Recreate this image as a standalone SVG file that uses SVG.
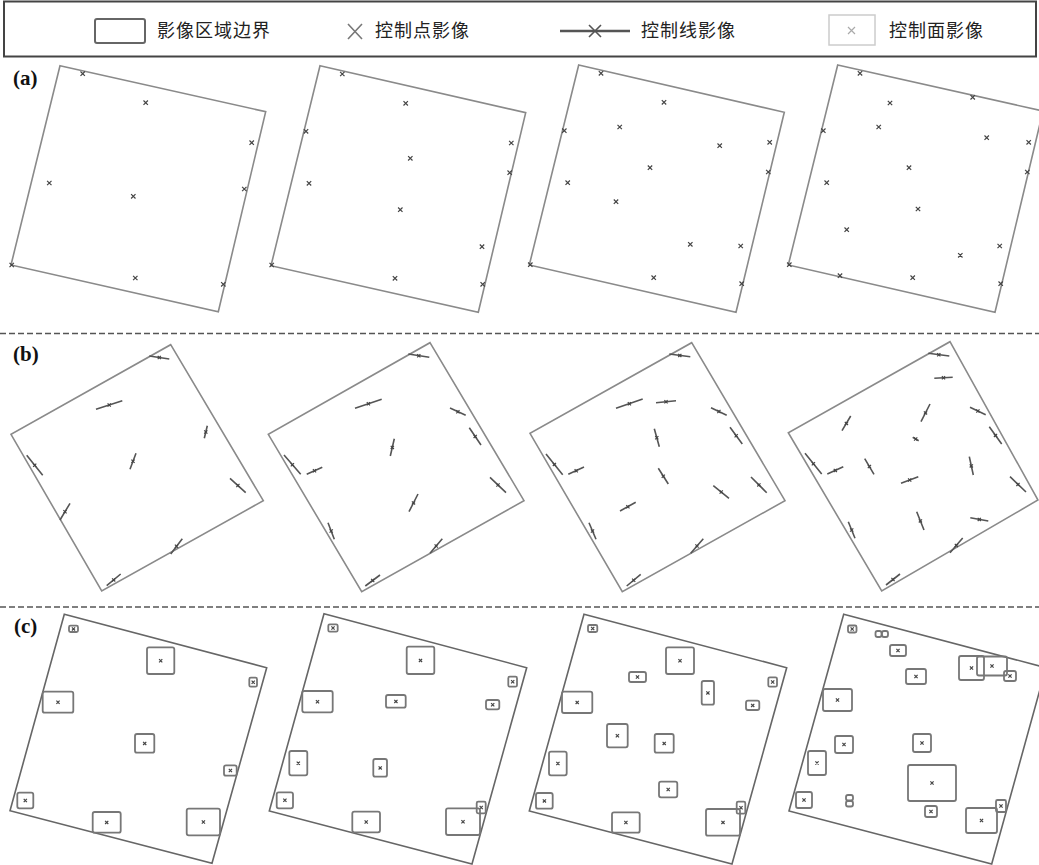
<svg xmlns="http://www.w3.org/2000/svg" xmlns:xlink="http://www.w3.org/1999/xlink" width="1039" height="865" viewBox="0 0 1039 865">
<style>
.bg{fill:#fff}
.frame{fill:none;stroke:#444;stroke-width:2}
.lt{font-family:"Noto Sans CJK SC","Noto Sans",sans-serif;font-size:18px;fill:#222;letter-spacing:1px}
.lab{font-family:"Liberation Serif",serif;font-weight:bold;font-size:21px;fill:#111}
.quad{fill:none;stroke:#8a8a8a;stroke-width:1.6}
.quadc{fill:none;stroke:#666;stroke-width:1.6}
.sep{stroke:#555;stroke-width:1.5;stroke-dasharray:6 3}
.pt{stroke:#444;stroke-width:1.2;fill:none}
.cl{stroke:#555;stroke-width:1.6;fill:none}
.cb{fill:none;stroke:#777;stroke-width:1.8}
</style>
<defs>
<g id="pt"><path class="pt" d="M-2.2,-2.2L2.2,2.2M-2.2,2.2L2.2,-2.2"/></g>
<g id="sp"><path class="pt" d="M-1.6,-1.6L1.6,1.6M-1.6,1.6L1.6,-1.6"/></g>
</defs>
<rect class="bg" x="0" y="0" width="1039" height="865"/>

<g id="legend">
<rect class="frame" x="4" y="1.5" width="1032" height="55"/>
<g id="leg-boundary"><rect x="95" y="19" width="50" height="24" rx="2" fill="#fff" stroke="#666" stroke-width="2"/><text class="lt" x="157" y="37">影像区域边界</text></g>
<g id="leg-point"><path d="M348,24L362,39M348,39L362,24" stroke="#777" stroke-width="1.6" fill="none"/><text class="lt" x="375" y="37">控制点影像</text></g>
<g id="leg-line"><line x1="560" y1="31" x2="630" y2="31" stroke="#555" stroke-width="2.5"/><path d="M589,25L601,37M589,37L601,25" stroke="#555" stroke-width="1.6" fill="none"/><text class="lt" x="641" y="37">控制线影像</text></g>
<g id="leg-face"><rect x="829" y="15" width="46" height="30" fill="#fff" stroke="#ccc" stroke-width="1.5"/><path d="M848,27L855,34M848,34L855,27" stroke="#aaa" stroke-width="1.2" fill="none"/><text class="lt" x="889" y="37">控制面影像</text></g>
</g>

<g id="separators">
<line class="sep" x1="0" y1="333.5" x2="1039" y2="333.5"/>
<line class="sep" x1="0" y1="607" x2="1039" y2="607"/>
</g>

<text class="lab" x="13" y="85">(a)</text>
<text class="lab" x="13" y="361">(b)</text>
<text class="lab" x="14" y="633">(c)</text>

<!-- Row a -->
<g id="a1">
<polygon class="quad" points="60,65.7 265.7,111.7 218.3,311.7 11,265"/>
<use href="#pt" x="82.7" y="73.7"/><use href="#pt" x="145.7" y="102.7"/><use href="#pt" x="251.7" y="142.7"/><use href="#pt" x="49.3" y="183"/><use href="#pt" x="133.3" y="196.3"/><use href="#pt" x="244.3" y="189"/><use href="#pt" x="11.7" y="265"/><use href="#pt" x="135.3" y="278"/><use href="#pt" x="223.3" y="284.3"/>
</g>
<g id="a2">
<polygon class="quad" points="320,65.7 525.7,112.7 478.3,312.3 271,265.7"/>
<use href="#pt" x="342.3" y="74"/><use href="#pt" x="405.7" y="103.3"/><use href="#pt" x="306" y="131.3"/><use href="#pt" x="511.3" y="143"/><use href="#pt" x="410.3" y="158.3"/><use href="#pt" x="509.7" y="172.7"/><use href="#pt" x="309" y="183.3"/><use href="#pt" x="400.3" y="209.7"/><use href="#pt" x="482" y="246.7"/><use href="#pt" x="271.7" y="265"/><use href="#pt" x="395" y="278.3"/><use href="#pt" x="482.7" y="284.3"/>
</g>
<g id="a3">
<polygon class="quad" points="578.7,65 784.3,112.3 736,312.3 529.3,265"/>
<use href="#pt" x="601" y="73.3"/><use href="#pt" x="664" y="102.3"/><use href="#pt" x="564.3" y="130.7"/><use href="#pt" x="619.7" y="127"/><use href="#pt" x="719.7" y="145.7"/><use href="#pt" x="769.7" y="142.3"/><use href="#pt" x="650" y="167.7"/><use href="#pt" x="768.3" y="172"/><use href="#pt" x="567.7" y="182.7"/><use href="#pt" x="616" y="201.7"/><use href="#pt" x="690.3" y="244.3"/><use href="#pt" x="740.7" y="246"/><use href="#pt" x="530.3" y="264.7"/><use href="#pt" x="653.7" y="277.7"/><use href="#pt" x="741.7" y="283.7"/>
</g>
<g id="a4">
<polygon class="quad" points="837.7,65 1043,111 995,312.3 788.3,265"/>
<use href="#pt" x="860" y="73.3"/><use href="#pt" x="972.7" y="97.3"/><use href="#pt" x="890" y="103"/><use href="#pt" x="878.7" y="127"/><use href="#pt" x="823.3" y="130.7"/><use href="#pt" x="986.7" y="137.7"/><use href="#pt" x="1028.7" y="142.3"/><use href="#pt" x="909" y="167.7"/><use href="#pt" x="1027.3" y="172"/><use href="#pt" x="826.7" y="182.7"/><use href="#pt" x="918" y="209"/><use href="#pt" x="846.7" y="229.7"/><use href="#pt" x="999.7" y="246"/><use href="#pt" x="960.3" y="255.3"/><use href="#pt" x="789.3" y="264.7"/><use href="#pt" x="840" y="275.7"/><use href="#pt" x="912.7" y="277.7"/><use href="#pt" x="1000.7" y="283.7"/>
</g>

<!-- Row b -->
<g id="b1">
<polygon class="quad" points="170.7,344.7 263.3,500.7 101.7,591 11,434.3"/>
<path class="cl" d="M149.3,356L169.3,359M96,409.3L122.3,400.7M204.3,438.3L207.3,425.7M26.7,455.3L42.7,475.3M130,469.3L136,453.3M230,478.3L245.7,492.7M60,520L70,503.3M170.7,554L182.3,538.7M106.7,585.7L120.7,574"/>
<use href="#sp" x="159.3" y="357.5"/><use href="#sp" x="109.2" y="405"/><use href="#sp" x="205.8" y="432"/><use href="#sp" x="34.7" y="465.3"/><use href="#sp" x="133" y="461.3"/><use href="#sp" x="237.9" y="485.5"/><use href="#sp" x="65" y="511.7"/><use href="#sp" x="176.5" y="546.3"/><use href="#sp" x="113.7" y="579.9"/>
</g>
<g id="b2">
<polygon class="quad" points="430,342.7 524,500.7 361.7,591.7 268.3,434.3"/>
<path class="cl" d="M408.3,354L429.3,357.3M355,408.3L381.7,399.3M450,408L465.7,415.3M469.3,427.7L481,445M390.3,456L394.3,438.7M284,455L300.7,474.3M306.7,474.3L322.3,467.3M490,477.3L506,492.7M409,511.7L418,494M328,522.7L334.3,539.3M430,553.3L442.3,538.7M365.3,586L380,575"/>
<use href="#sp" x="418.8" y="355.7"/><use href="#sp" x="368.4" y="403.8"/><use href="#sp" x="457.9" y="411.7"/><use href="#sp" x="475.2" y="436.4"/><use href="#sp" x="392.3" y="447.4"/><use href="#sp" x="292.4" y="464.7"/><use href="#sp" x="314.5" y="470.8"/><use href="#sp" x="498" y="485"/><use href="#sp" x="413.5" y="502.9"/><use href="#sp" x="331.2" y="531"/><use href="#sp" x="436.2" y="546"/><use href="#sp" x="372.7" y="580.5"/>
</g>
<g id="b3">
<polygon class="quad" points="691.7,342.7 785,500.7 622.3,591.7 530,433.3"/>
<path class="cl" d="M669.3,354L690.3,356.7M616,408.3L642.7,399M656,402.7L676,400.7M711,407.7L726.7,415.3M730,427.3L742.3,444M654.3,428.7L659.3,446.7M546,454L562.7,474.7M568.3,474.3L584,467M658.3,468.3L668.3,484M751,477L766.7,492.7M713.3,485.7L729,498.3M620,511L635.7,502.3M589,522.7L596,539.3M690.7,553.3L703.3,538.7M626.7,586L640.7,574.3"/>
<use href="#sp" x="679.8" y="355.4"/><use href="#sp" x="629.4" y="403.7"/><use href="#sp" x="666" y="401.7"/><use href="#sp" x="718.9" y="411.5"/><use href="#sp" x="736.2" y="435.7"/><use href="#sp" x="656.8" y="437.7"/><use href="#sp" x="554.4" y="464.4"/><use href="#sp" x="576.2" y="470.7"/><use href="#sp" x="663.3" y="476.2"/><use href="#sp" x="758.9" y="484.9"/><use href="#sp" x="721.2" y="492"/><use href="#sp" x="627.9" y="506.7"/><use href="#sp" x="592.5" y="531"/><use href="#sp" x="697" y="546"/><use href="#sp" x="633.7" y="580.2"/>
</g>
<g id="b4">
<polygon class="quad" points="950,341.7 1038,500 881.7,591 788.3,432.7"/>
<path class="cl" d="M928.3,353.3L949.3,356M934.3,378.3L952.7,377.3M921,421.7L930,404M842,430.7L850.7,416M970,407.3L985.7,414.7M989.3,426.7L1001.7,444M912.7,437.3L918.7,440.7M805,453.3L821.7,474M827.3,474L843.3,466.7M864.7,458.7L874,474.3M969.3,456.7L973.3,475M901,483.3L918.3,476.7M1010,476.7L1026,492M916.7,511.7L924,530M970.3,517.7L988.3,521M848.3,521.7L855,538.3M950,552.7L962.7,538M886,585L900,574"/>
<use href="#sp" x="938.8" y="354.7"/><use href="#sp" x="943.5" y="377.8"/><use href="#sp" x="925.5" y="412.9"/><use href="#sp" x="846.4" y="423.4"/><use href="#sp" x="977.9" y="411"/><use href="#sp" x="995.5" y="435.4"/><use href="#sp" x="915.7" y="439"/><use href="#sp" x="813.4" y="463.7"/><use href="#sp" x="835.3" y="470.4"/><use href="#sp" x="869.4" y="466.5"/><use href="#sp" x="971.3" y="465.9"/><use href="#sp" x="909.7" y="480"/><use href="#sp" x="1018" y="484.4"/><use href="#sp" x="920.4" y="520.9"/><use href="#sp" x="979.3" y="519.4"/><use href="#sp" x="851.7" y="530"/><use href="#sp" x="956.4" y="545.4"/><use href="#sp" x="893" y="579.5"/>
</g>

<!-- Row c -->
<g id="c1">
<polygon class="quadc" points="64.3,614.3 266.7,667.7 212,863.3 10,810.7"/>
<rect class="cb" x="69" y="625.7" width="9" height="6.3" rx="1.5"/><use href="#sp" x="73.5" y="628.9"/>
<rect class="cb" x="147" y="647.3" width="27.3" height="26.7" rx="2"/><use href="#sp" x="160.7" y="660.7"/>
<rect class="cb" x="249.3" y="677.7" width="7.7" height="9" rx="1.5"/><use href="#sp" x="253.2" y="682.2"/>
<rect class="cb" x="42.7" y="691.7" width="30.6" height="21" rx="2"/><use href="#sp" x="58" y="702.2"/>
<rect class="cb" x="135" y="734" width="19.3" height="18.7" rx="2"/><use href="#sp" x="144.7" y="743.4"/>
<rect class="cb" x="224" y="765.3" width="12.7" height="10.4" rx="2"/><use href="#sp" x="230.4" y="770.5"/>
<rect class="cb" x="17.3" y="792.7" width="16" height="15.6" rx="2"/><use href="#sp" x="25.3" y="800.5"/>
<rect class="cb" x="92.7" y="812" width="28" height="20.7" rx="2"/><use href="#sp" x="106.7" y="822.4"/>
<rect class="cb" x="186.7" y="808.7" width="33.3" height="26.6" rx="2"/><use href="#sp" x="203.4" y="822"/>
</g>
<g id="c2">
<polygon class="quadc" points="324,613.7 526.7,667.7 472,864 269.3,811"/>
<rect class="cb" x="328.3" y="624.3" width="9.4" height="7.4" rx="1.5"/><use href="#sp" x="333" y="628"/>
<rect class="cb" x="406.7" y="646.7" width="27.6" height="27.3" rx="2"/><use href="#sp" x="420.5" y="660.4"/>
<rect class="cb" x="508.3" y="676.7" width="8.7" height="10" rx="1.5"/><use href="#sp" x="512.7" y="681.7"/>
<rect class="cb" x="302.3" y="691" width="30.4" height="21.3" rx="2"/><use href="#sp" x="317.5" y="701.7"/>
<rect class="cb" x="386" y="695" width="19.7" height="12.7" rx="2"/><use href="#sp" x="395.9" y="701.4"/>
<rect class="cb" x="486" y="700" width="13.3" height="9.3" rx="2"/><use href="#sp" x="492.7" y="704.7"/>
<rect class="cb" x="289.3" y="751" width="18" height="24.3" rx="2"/><use href="#sp" x="298.3" y="763.2"/>
<rect class="cb" x="373.3" y="759" width="13.7" height="17.7" rx="2"/><use href="#sp" x="380.2" y="767.9"/>
<rect class="cb" x="276.7" y="792.3" width="16.3" height="16" rx="2"/><use href="#sp" x="284.9" y="800.3"/>
<rect class="cb" x="476.7" y="801.7" width="9" height="11.6" rx="1.5"/><use href="#sp" x="481.2" y="807.5"/>
<rect class="cb" x="352.3" y="811.7" width="27.7" height="20.6" rx="2"/><use href="#sp" x="366.2" y="822"/>
<rect class="cb" x="446" y="808.3" width="34" height="26.7" rx="2"/><use href="#sp" x="463" y="821.7"/>
</g>
<g id="c3">
<polygon class="quadc" points="584,614.3 786.7,667.7 732,864 529.3,811"/>
<rect class="cb" x="588" y="625" width="9.3" height="7" rx="1.5"/><use href="#sp" x="592.7" y="628.5"/>
<rect class="cb" x="666" y="647.3" width="28" height="26.7" rx="2"/><use href="#sp" x="680" y="660.7"/>
<rect class="cb" x="629" y="672" width="17" height="10" rx="2"/><use href="#sp" x="637.5" y="677"/>
<rect class="cb" x="701.7" y="681" width="12.3" height="23.7" rx="2"/><use href="#sp" x="707.9" y="692.9"/>
<rect class="cb" x="768.3" y="677.3" width="8.7" height="9.4" rx="1.5"/><use href="#sp" x="772.7" y="682"/>
<rect class="cb" x="746" y="700.7" width="13.3" height="9.3" rx="2"/><use href="#sp" x="752.7" y="705.4"/>
<rect class="cb" x="562" y="691.7" width="30.3" height="21.3" rx="2"/><use href="#sp" x="577.2" y="702.4"/>
<rect class="cb" x="607" y="724" width="20.7" height="23.3" rx="2"/><use href="#sp" x="617.4" y="735.7"/>
<rect class="cb" x="654.7" y="734" width="19" height="18.7" rx="2"/><use href="#sp" x="664.2" y="743.4"/>
<rect class="cb" x="549" y="751.7" width="17.7" height="23.6" rx="2"/><use href="#sp" x="557.9" y="763.5"/>
<rect class="cb" x="659" y="781.7" width="18.3" height="15.6" rx="2"/><use href="#sp" x="668.2" y="789.5"/>
<rect class="cb" x="536" y="793" width="16.7" height="15.7" rx="2"/><use href="#sp" x="544.4" y="800.9"/>
<rect class="cb" x="736.7" y="801.7" width="8.6" height="12" rx="1.5"/><use href="#sp" x="741" y="807.7"/>
<rect class="cb" x="612" y="812.3" width="27.7" height="20.4" rx="2"/><use href="#sp" x="625.9" y="822.5"/>
<rect class="cb" x="706" y="809" width="34" height="26.7" rx="2"/><use href="#sp" x="723" y="822.4"/>
</g>
<g id="c4">
<polygon class="quadc" points="843.7,614.3 1046,667.7 991.7,864 789,811"/>
<rect class="cb" x="848" y="625.5" width="8.5" height="7" rx="1.5"/><use href="#sp" x="852.2" y="629"/>
<rect class="cb" x="875.5" y="631" width="6" height="6" rx="2"/><rect class="cb" x="882" y="631" width="6" height="6" rx="2"/>
<rect class="cb" x="890" y="645" width="16" height="11" rx="2"/><use href="#sp" x="898" y="650.5"/>
<rect class="cb" x="959" y="656" width="25" height="24" rx="2"/><use href="#sp" x="971.5" y="668"/>
<rect class="cb" x="977" y="656.5" width="30" height="19" rx="2"/><use href="#sp" x="992" y="666"/>
<rect class="cb" x="1004" y="671" width="12" height="10" rx="2"/><use href="#sp" x="1010" y="676"/>
<rect class="cb" x="906" y="669" width="20" height="15" rx="2"/><use href="#sp" x="916" y="676.5"/>
<rect class="cb" x="823" y="689" width="29" height="22" rx="2"/><use href="#sp" x="837.5" y="700"/>
<rect class="cb" x="835" y="736" width="18" height="17" rx="2"/><use href="#sp" x="844" y="744.5"/>
<rect class="cb" x="913" y="734" width="18" height="18" rx="2"/><use href="#sp" x="922" y="743"/>
<rect class="cb" x="808" y="751" width="18" height="24" rx="2"/><use href="#sp" x="817" y="763"/>
<rect class="cb" x="908" y="765" width="48" height="36" rx="2"/><use href="#sp" x="932" y="783"/>
<rect class="cb" x="796" y="792" width="16" height="16" rx="2"/><use href="#sp" x="804" y="800"/>
<rect class="cb" x="846" y="795" width="7" height="5.5" rx="2"/><rect class="cb" x="846" y="801" width="7" height="5.5" rx="2"/>
<rect class="cb" x="925" y="806" width="12" height="11" rx="2"/><use href="#sp" x="931" y="811.5"/>
<rect class="cb" x="996" y="800" width="10" height="12" rx="1.5"/><use href="#sp" x="1001" y="806"/>
<rect class="cb" x="966" y="808" width="31" height="25" rx="2"/><use href="#sp" x="981.5" y="820.5"/>
</g>
</svg>
